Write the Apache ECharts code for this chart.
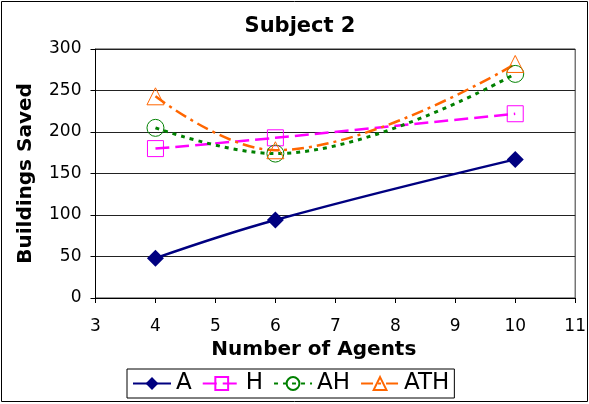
<!DOCTYPE html>
<html><head><meta charset="utf-8">
<script src="https://cdn.jsdelivr.net/npm/echarts@6/dist/echarts.min.js"></script>
<style>html,body{margin:0;padding:0;background:#fff}#c{width:589px;height:404px}</style>
</head><body><div id="c"></div>
<script>
const agents = [4, 6, 10];
const seriesA = [48, 94, 167];
const seriesH = [180, 193, 222];
const seriesAH = [205, 174, 270];
const seriesATH = [243, 178, 282];
const xTicks = [3, 4, 5, 6, 7, 8, 9, 10, 11];
const yTicks = [0, 50, 100, 150, 200, 250, 300];

const pts = arr => agents.map((x, i) => [x, arr[i]]);
const font = 'DejaVu Sans, Verdana, sans-serif';
const chart = echarts.init(document.getElementById('c'));
chart.setOption({
  animation: false,
  textStyle: { fontFamily: font },
  title: { text: 'Subject 2', left: 295, textAlign: 'center', top: 11,
    textStyle: { fontFamily: font, fontSize: 21, fontWeight: 'bold', color: '#000' } },
  graphic: [{ type: 'rect', shape: { x: 1.5, y: 1.5, width: 586, height: 400 },
    style: { fill: 'none', stroke: '#000', lineWidth: 1 }, silent: true, z: -1 }],
  grid: { left: 95.5, right: 13.5, top: 49, bottom: 106, show: true, borderColor: '#333', borderWidth: 1 },
  xAxis: {
    type: 'value', min: xTicks[0], max: xTicks[xTicks.length - 1], interval: 1,
    name: 'Number of Agents', nameLocation: 'middle', nameGap: 33,
    nameTextStyle: { fontFamily: font, fontSize: 20, fontWeight: 'bold', color: '#000', padding: [0, 43, 0, 0] },
    axisLine: { lineStyle: { color: '#000', width: 1 } },
    axisTick: { show: true, inside: false, length: 5, lineStyle: { color: '#000' } },
    axisLabel: { fontFamily: font, fontSize: 17, color: '#000', margin: 20 },
    splitLine: { show: false }
  },
  yAxis: {
    type: 'value', min: yTicks[0], max: yTicks[yTicks.length - 1], interval: 50,
    name: 'Buildings Saved', nameLocation: 'middle', nameGap: 60,
    nameTextStyle: { fontFamily: font, fontSize: 20, fontWeight: 'bold', color: '#000' },
    axisLine: { show: true, lineStyle: { color: '#000', width: 1 } },
    axisTick: { show: true, inside: false, length: 5, lineStyle: { color: '#000' } },
    axisLabel: { fontFamily: font, fontSize: 17, color: '#000', margin: 14 },
    splitLine: { show: true, lineStyle: { color: '#222', width: 1 } }
  },
  legend: {
    left: 127, top: 369, itemWidth: 38, itemHeight: 16, itemGap: 10,
    padding: [3, 5, 3, 5],
    borderColor: '#000', borderWidth: 1,
    textStyle: { fontFamily: font, fontSize: 23, color: '#000' },
    data: ['A', 'H', 'AH', 'ATH']
  },
  series: [
    { name: 'A', type: 'line', data: pts(seriesA), smooth: 0.4,
      symbol: 'diamond', symbolSize: 17,
      lineStyle: { color: '#000080', width: 2.5 },
      itemStyle: { color: '#000080' } },
    { name: 'H', type: 'line', data: pts(seriesH), smooth: 0.4,
      symbol: 'rect', symbolSize: 16,
      lineStyle: { color: '#FF00FF', width: 2.5, type: [14, 6] },
      itemStyle: { color: 'rgba(255,255,255,0)', borderColor: '#FF00FF', borderWidth: 1 } },
    { name: 'AH', type: 'line', data: pts(seriesAH), smooth: 0.4,
      symbol: 'circle', symbolSize: 17,
      lineStyle: { color: '#008000', width: 3, type: [4, 5] },
      itemStyle: { color: 'rgba(255,255,255,0)', borderColor: '#008000', borderWidth: 1 } },
    { name: 'ATH', type: 'line', data: pts(seriesATH), smooth: 0.4,
      symbol: 'triangle', symbolSize: 17,
      lineStyle: { color: '#FF6600', width: 2.5, type: [12, 5, 3, 5] },
      itemStyle: { color: 'rgba(255,255,255,0)', borderColor: '#FF6600', borderWidth: 1 } }
  ]
});
</script></body></html>
